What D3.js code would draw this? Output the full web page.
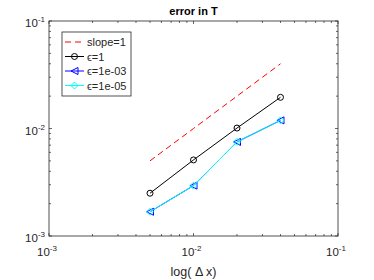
<!DOCTYPE html>
<html>
<head>
<meta charset="utf-8">
<script src="https://cdn.jsdelivr.net/npm/d3@7"></script>
<style>
  body { margin: 0; background: #fff; }
  svg { display: block; font-family: "Liberation Sans", Arial, sans-serif; }
</style>
</head>
<body>
<svg id="chart" width="374" height="280"></svg>
<script>
// data
const dx = [0.005, 0.01, 0.02, 0.04];
const slopeRef = [0.005, 0.01, 0.02, 0.04];
const errEps1 = [0.0025, 0.0051, 0.0101, 0.0195];
const errEps1e3 = [0.00168, 0.00294, 0.0075, 0.0119];
const errEps1e5 = [0.00168, 0.00294, 0.0075, 0.0119];
const decades = [-3, -2, -1];
const legendLabels = ['slope=1', 'ϵ=1', 'ϵ=1e-03', 'ϵ=1e-05'];

const margin = { left: 49, right: 36, top: 21, bottom: 44 };
const W = 374, H = 280;
const frameColor = '#262626';

const svg = d3.select('#chart');

const x = d3.scaleLog().domain([1e-3, 1e-1]).range([margin.left, W - margin.right]);
const y = d3.scaleLog().domain([1e-3, 1e-1]).range([H - margin.bottom, margin.top]);

const majors = decades.map(e => Math.pow(10, e));
const minors = [];
decades.slice(0, -1).forEach(e => {
  for (let k = 2; k <= 9; k++) minors.push(k * Math.pow(10, e));
});

const x0 = margin.left, x1 = W - margin.right, y0 = H - margin.bottom, y1 = margin.top;

// ticks on all four sides, pointing inward
const tickG = svg.append('g').attr('stroke', frameColor).attr('stroke-width', 0.7);
function ticks(vals, len) {
  vals.forEach(v => {
    const px = x(v), py = y(v);
    tickG.append('line').attr('x1', px).attr('x2', px).attr('y1', y0).attr('y2', y0 - len);
    tickG.append('line').attr('x1', px).attr('x2', px).attr('y1', y1).attr('y2', y1 + len);
    tickG.append('line').attr('y1', py).attr('y2', py).attr('x1', x0).attr('x2', x0 + len);
    tickG.append('line').attr('y1', py).attr('y2', py).attr('x1', x1).attr('x2', x1 - len);
  });
}
ticks(majors, 3);
ticks(minors, 2);

svg.append('rect')
  .attr('x', x0).attr('y', y1)
  .attr('width', x1 - x0).attr('height', y0 - y1)
  .attr('fill', 'none').attr('stroke', frameColor).attr('stroke-width', 0.8);

// tick labels 10^e
decades.forEach(e => {
  const v = Math.pow(10, e);
  const tx = svg.append('text')
    .attr('x', x(v) - 2).attr('y', y0 + 20)
    .attr('text-anchor', 'middle')
    .attr('font-size', 11.5).attr('fill', frameColor);
  tx.append('tspan').text('10');
  tx.append('tspan').attr('dy', -5).attr('font-size', 8).text(String(e));

  const ty = svg.append('text')
    .attr('x', x0 - 4).attr('y', y(v) + 6)
    .attr('text-anchor', 'end')
    .attr('font-size', 11.5).attr('fill', frameColor);
  ty.append('tspan').text('10');
  ty.append('tspan').attr('dy', -5).attr('font-size', 8).text(String(e));
});

svg.append('text')
  .attr('x', (x0 + x1) / 2).attr('y', 15)
  .attr('text-anchor', 'middle')
  .attr('font-size', 11).attr('font-weight', 'bold').attr('fill', '#000')
  .text('error in T');

svg.append('text')
  .attr('x', (x0 + x1) / 2).attr('y', 276)
  .attr('text-anchor', 'middle')
  .attr('font-size', 12.5).attr('fill', frameColor)
  .text('log( Δ x)');

const line = d3.line().x(d => x(d[0])).y(d => y(d[1]));

function marker(g, type, px, py, color) {
  if (type === 'circle') {
    g.append('circle').attr('cx', px).attr('cy', py).attr('r', 3)
      .attr('fill', 'none').attr('stroke', color).attr('stroke-width', 1);
  } else if (type === 'tri') {
    const s = 3.5;
    g.append('path')
      .attr('d', `M${px - s},${py}L${px + s},${py - s}L${px + s},${py + s}Z`)
      .attr('fill', 'none').attr('stroke', color).attr('stroke-width', 1);
  } else if (type === 'diamond') {
    const s = 3.5;
    g.append('path')
      .attr('d', `M${px},${py - s}L${px + s},${py}L${px},${py + s}L${px - s},${py}Z`)
      .attr('fill', 'none').attr('stroke', color).attr('stroke-width', 1);
  }
}

const series = [
  { vals: slopeRef, color: '#ff0000', dash: '6,4', marker: null },
  { vals: errEps1, color: '#000000', dash: null, marker: 'circle' },
  { vals: errEps1e3, color: '#0000ff', dash: null, marker: 'tri' },
  { vals: errEps1e5, color: '#00ffff', dash: null, marker: 'diamond' }
];

series.forEach(s => {
  const pts = dx.map((d, i) => [d, s.vals[i]]);
  const g = svg.append('g');
  g.append('path').attr('d', line(pts))
    .attr('fill', 'none').attr('stroke', s.color).attr('stroke-width', 1)
    .attr('stroke-dasharray', s.dash);
  if (s.marker) pts.forEach(p => marker(g, s.marker, x(p[0]), y(p[1]), s.color));
});

// legend
const leg = svg.append('g');
leg.append('rect').attr('x', 62).attr('y', 32).attr('width', 69).attr('height', 64)
  .attr('fill', '#fff').attr('stroke', frameColor).attr('stroke-width', 0.8);
series.forEach((s, i) => {
  const ly = 42 + i * 14.5;
  leg.append('line').attr('x1', 65).attr('x2', 84).attr('y1', ly).attr('y2', ly)
    .attr('stroke', s.color).attr('stroke-width', 1).attr('stroke-dasharray', s.dash);
  if (s.marker) marker(leg, s.marker, 74.5, ly, s.color);
  leg.append('text').attr('x', 87).attr('y', ly + 4)
    .attr('font-size', 11).attr('fill', frameColor)
    .text(legendLabels[i]);
});
</script>
</body>
</html>
